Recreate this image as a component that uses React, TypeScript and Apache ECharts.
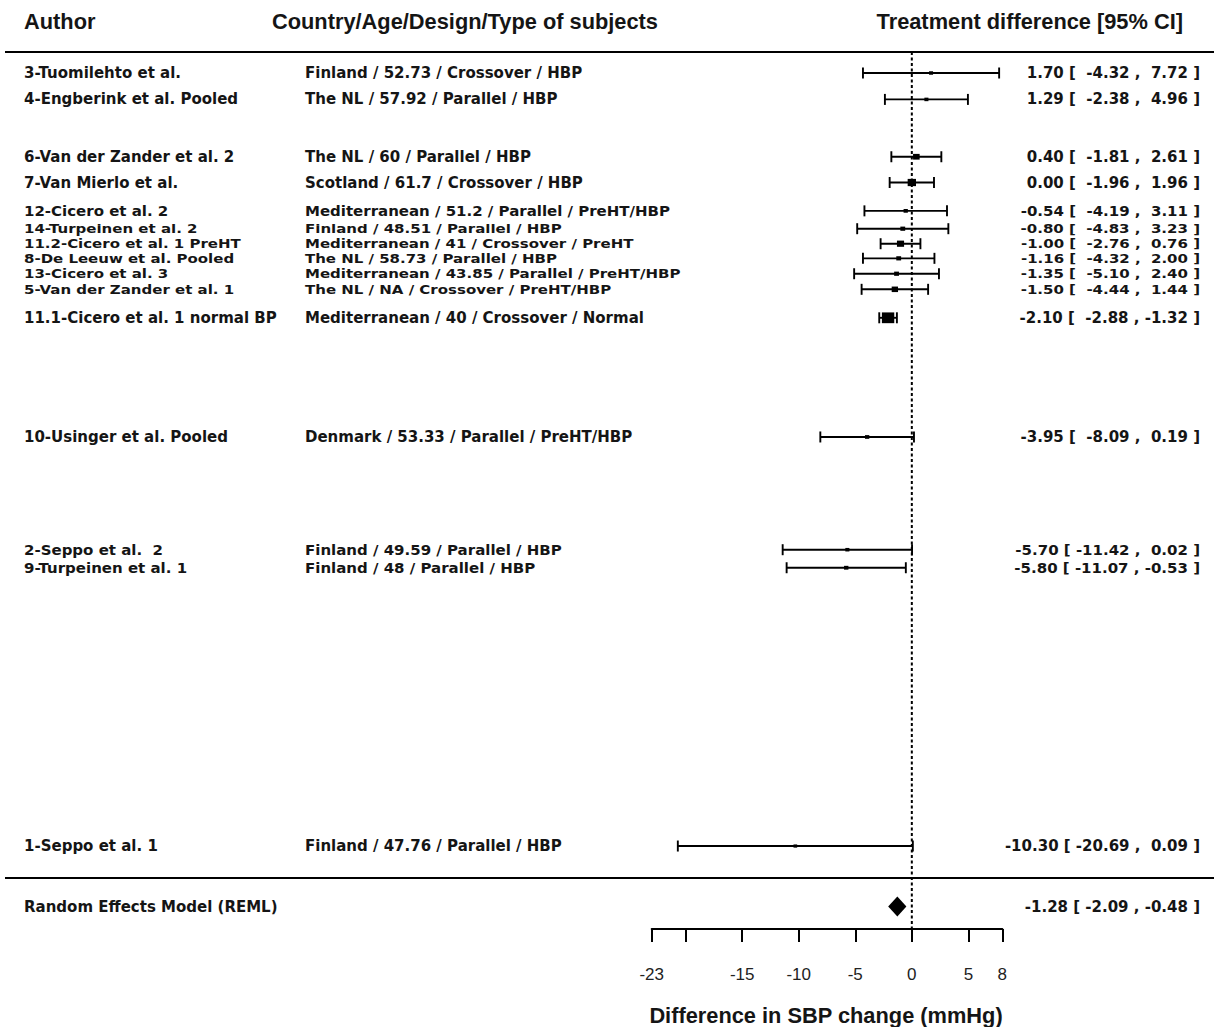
import React, { useEffect, useRef } from "react";
import * as echarts from "echarts";

// ---------------- data ----------------
const authors = [
  "3-Tuomilehto et al.",
  "4-Engberink et al. Pooled",
  "6-Van der Zander et al. 2",
  "7-Van Mierlo et al.",
  "12-Cicero et al. 2",
  "14-Turpeinen et al. 2",
  "11.2-Cicero et al. 1 PreHT",
  "8-De Leeuw et al. Pooled",
  "13-Cicero et al. 3",
  "5-Van der Zander et al. 1",
  "11.1-Cicero et al. 1 normal BP",
  "10-Usinger et al. Pooled",
  "2-Seppo et al.  2",
  "9-Turpeinen et al. 1",
  "1-Seppo et al. 1",
];
const subjects = [
  "Finland / 52.73 / Crossover / HBP",
  "The NL / 57.92 / Parallel / HBP",
  "The NL / 60 / Parallel / HBP",
  "Scotland / 61.7 / Crossover / HBP",
  "Mediterranean / 51.2 / Parallel / PreHT/HBP",
  "Finland / 48.51 / Parallel / HBP",
  "Mediterranean / 41 / Crossover / PreHT",
  "The NL / 58.73 / Parallel / HBP",
  "Mediterranean / 43.85 / Parallel / PreHT/HBP",
  "The NL / NA / Crossover / PreHT/HBP",
  "Mediterranean / 40 / Crossover / Normal",
  "Denmark / 53.33 / Parallel / PreHT/HBP",
  "Finland / 49.59 / Parallel / HBP",
  "Finland / 48 / Parallel / HBP",
  "Finland / 47.76 / Parallel / HBP",
];
const estimates = [1.7, 1.29, 0.4, 0.0, -0.54, -0.8, -1.0, -1.16, -1.35, -1.5, -2.1, -3.95, -5.7, -5.8, -10.3];
const lowerCI = [-4.32, -2.38, -1.81, -1.96, -4.19, -4.83, -2.76, -4.32, -5.1, -4.44, -2.88, -8.09, -11.42, -11.07, -20.69];
const upperCI = [7.72, 4.96, 2.61, 1.96, 3.11, 3.23, 0.76, 2.0, 2.4, 1.44, -1.32, 0.19, 0.02, -0.53, 0.09];
const weights = [3.2, 3.3, 8.8, 12.6, 3.8, 5.0, 10.0, 5.0, 5.0, 8.3, 21.4, 3.8, 3.3, 4.0, 2.5];
// row positions on the plot's vertical scale (as placed in the figure)
const rows = [1.7, 1.29, 0.4, 0.0, -0.44, -0.717, -0.95, -1.177, -1.416, -1.658, -2.1, -3.95, -5.7, -5.98, -10.3];

const pooledLabel = "Random Effects Model (REML)";
const pooledEstimate = -1.28;
const pooledLower = -2.09;
const pooledUpper = -0.48;
const pooledRow = -11.24;

const xTicks = [-23, -20, -15, -10, -5, 0, 5, 8];
const xTickLabels = [-23, -15, -10, -5, 0, 5, 8];

const headerAuthor = "Author";
const headerSubjects = "Country/Age/Design/Type of subjects";
const headerCI = "Treatment difference [95% CI]";
const xAxisTitle = "Difference in SBP change (mmHg)";

// ---------------- layout ----------------
const W = 1214;
const H = 1027;
const PLOT_LEFT = 651.7;
const PLOT_RIGHT = 1002.3;
const TOP = 52;
const AXIS_Y = 929;
const Y_MAX = 2.026;
const Y_MIN = -11.588;
const PX_PER_UNIT = (AXIS_Y - TOP) / (Y_MAX - Y_MIN);
const ROW_FONT_SIZE = 15;
const FONT_BOX = 1.18; // text box height relative to font size

const ROW_FONT = "'DejaVu Sans', sans-serif";
const HEAD_FONT = "'Liberation Sans', Arial, sans-serif";
const TEXT_COLOR = "#151515";

const f2 = (v: number) => v.toFixed(2);
const ciText = (e: number, l: number, u: number) =>
  `${f2(e)} [ ${f2(l).padStart(6, " ")} , ${f2(u).padStart(5, " ")} ]`;

export default function App() {
  const ref = useRef<HTMLDivElement>(null);

  useEffect(() => {
    if (!ref.current) return;
    const chart = echarts.init(ref.current, undefined, { renderer: "svg" });

    const ciData = estimates.map((e, i) => [e, lowerCI[i], upperCI[i], rows[i], weights[i]]);
    const allRows = [...rows, pooledRow];

    // tightly packed rows get a slightly shorter (horizontally stretched) font so lines do not collide
    const fontSizes = allRows.map((r, i) => {
      const gaps: number[] = [];
      if (i > 0) gaps.push(Math.abs(allRows[i - 1] - r) * PX_PER_UNIT);
      if (i < allRows.length - 1) gaps.push(Math.abs(allRows[i + 1] - r) * PX_PER_UNIT);
      const g = Math.min(...gaps);
      return Math.min(ROW_FONT_SIZE, (g - 0.4) / FONT_BOX);
    });

    const textSeries = (x: number, texts: string[], align: "left" | "right") => ({
      type: "custom",
      xAxisIndex: 1,
      yAxisIndex: 1,
      clip: false,
      silent: true,
      encode: { x: 0, y: 1 },
      data: texts.map((_t, i) => [x, allRows[i], i]),
      renderItem: (_p: any, api: any) => {
        const i = api.value(2);
        const pt = api.coord([api.value(0), api.value(1)]);
        const fs = fontSizes[i];
        return {
          type: "text",
          x: pt[0],
          y: pt[1],
          scaleX: ROW_FONT_SIZE / fs,
          style: {
            text: texts[i],
            font: `bold ${fs.toFixed(2)}px ${ROW_FONT}`,
            fill: TEXT_COLOR,
            textAlign: align,
            textVerticalAlign: "middle",
          },
        };
      },
    });

    const headStyle = (text: string, align: string) => ({
      text,
      font: `bold 21.8px ${HEAD_FONT}`,
      fill: TEXT_COLOR,
      textAlign: align,
      textVerticalAlign: "middle",
    });

    const option: any = {
      animation: false,
      backgroundColor: "#ffffff",
      grid: [
        { left: PLOT_LEFT, width: PLOT_RIGHT - PLOT_LEFT, top: TOP, height: AXIS_Y - TOP },
        { left: 0, width: W, top: TOP, height: AXIS_Y - TOP },
      ],
      xAxis: [
        {
          gridIndex: 0,
          type: "value",
          min: -23,
          max: 8,
          axisLine: { show: true, onZero: false, lineStyle: { color: "#000", width: 2 } },
          axisTick: { show: true, customValues: xTicks, length: 13, inside: false, lineStyle: { color: "#000", width: 2 } },
          axisLabel: {
            show: true,
            customValues: xTickLabels,
            margin: 37,
            fontSize: 17,
            color: "#222",
            fontFamily: HEAD_FONT,
          },
          splitLine: { show: false },
        },
        { gridIndex: 1, type: "value", min: 0, max: W, show: false },
      ],
      yAxis: [
        { gridIndex: 0, type: "value", min: Y_MIN, max: Y_MAX, show: false, splitLine: { show: false } },
        { gridIndex: 1, type: "value", min: Y_MIN, max: Y_MAX, show: false, splitLine: { show: false } },
      ],
      series: [
        {
          type: "line",
          xAxisIndex: 0,
          yAxisIndex: 0,
          symbol: "none",
          silent: true,
          lineStyle: { color: "#000", width: 2, type: [3, 2.5] },
          data: [
            [0, Y_MAX],
            [0, Y_MIN],
          ],
        },
        {
          type: "custom",
          xAxisIndex: 0,
          yAxisIndex: 0,
          clip: false,
          silent: true,
          encode: { x: [0, 1, 2], y: 3 },
          data: ciData,
          renderItem: (_p: any, api: any) => {
            const est = api.value(0);
            const lb = api.value(1);
            const ub = api.value(2);
            const row = api.value(3);
            const w = api.value(4);
            const pL = api.coord([lb, row]);
            const pU = api.coord([ub, row]);
            const pE = api.coord([est, row]);
            const s = 2.2 + 0.4 * w;
            const cap = 5.5;
            const st = { stroke: "#000", lineWidth: 1.9 };
            return {
              type: "group",
              children: [
                { type: "line", shape: { x1: pL[0], y1: pL[1], x2: pU[0], y2: pU[1] }, style: st },
                { type: "line", shape: { x1: pL[0], y1: pL[1] - cap, x2: pL[0], y2: pL[1] + cap }, style: st },
                { type: "line", shape: { x1: pU[0], y1: pU[1] - cap, x2: pU[0], y2: pU[1] + cap }, style: st },
                {
                  type: "rect",
                  shape: { x: pE[0] - (s * 1.15) / 2, y: pE[1] - s / 2, width: s * 1.15, height: s },
                  style: { fill: "#000" },
                },
              ],
            };
          },
        },
        {
          type: "custom",
          xAxisIndex: 0,
          yAxisIndex: 0,
          clip: false,
          silent: true,
          encode: { x: [0, 1, 2], y: 3 },
          data: [[pooledEstimate, pooledLower, pooledUpper, pooledRow]],
          renderItem: (_p: any, api: any) => {
            const est = api.value(0);
            const lb = api.value(1);
            const ub = api.value(2);
            const row = api.value(3);
            const pL = api.coord([lb, row]);
            const pU = api.coord([ub, row]);
            const pE = api.coord([est, row]);
            const h = 10;
            return {
              type: "polygon",
              shape: {
                points: [
                  [pL[0], pL[1]],
                  [pE[0], pE[1] - h],
                  [pU[0], pU[1]],
                  [pE[0], pE[1] + h],
                ],
              },
              style: { fill: "#000" },
            };
          },
        },
        textSeries(24, [...authors, pooledLabel], "left"),
        textSeries(305, subjects, "left"),
        textSeries(
          1200,
          [
            ...estimates.map((e, i) => ciText(e, lowerCI[i], upperCI[i])),
            `${f2(pooledEstimate)} [ ${f2(pooledLower)} , ${f2(pooledUpper)} ]`,
          ],
          "right"
        ),
      ],
      graphic: [
        { type: "line", shape: { x1: 5, y1: TOP, x2: W, y2: TOP }, style: { stroke: "#000", lineWidth: 2 }, silent: true },
        { type: "line", shape: { x1: 5, y1: 878, x2: W, y2: 878 }, style: { stroke: "#000", lineWidth: 2 }, silent: true },
        { type: "text", x: 24, y: 21, style: headStyle(headerAuthor, "left") },
        { type: "text", x: 272, y: 21, style: headStyle(headerSubjects, "left") },
        { type: "text", x: 1183, y: 21, style: headStyle(headerCI, "right") },
        { type: "text", x: 826, y: 1015, style: headStyle(xAxisTitle, "center") },
      ],
    };

    chart.setOption(option);
    return () => chart.dispose();
  }, []);

  return <div ref={ref} style={{ position: "absolute", left: 0, top: 0, width: W, height: H }} />;
}
